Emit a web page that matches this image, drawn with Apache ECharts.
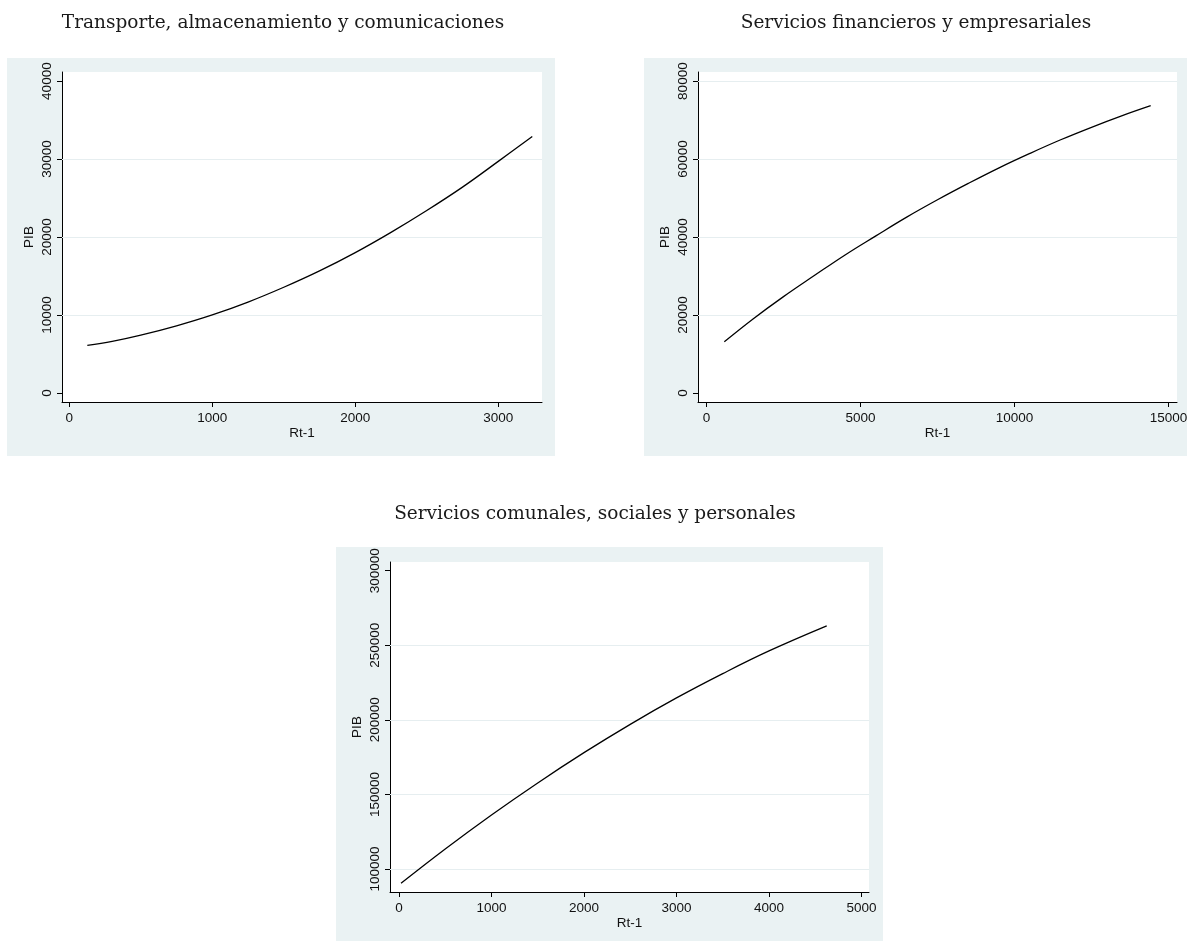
<!DOCTYPE html>
<html>
<head>
<meta charset="utf-8">
<script src="https://cdn.jsdelivr.net/npm/echarts@6/dist/echarts.min.js"></script>
<style>
  html, body { margin: 0; padding: 0; background: #ffffff; }
  #chart { width: 1190px; height: 943px; }
</style>
</head>
<body>
<div id="chart"></div>
<script>
// Panel titles
const titles = [
  'Transporte, almacenamiento y comunicaciones',
  'Servicios financieros y empresariales',
  'Servicios comunales, sociales y personales'
];
const xName = 'Rt-1';
const yName = 'PIB';

// Transporte, almacenamiento y comunicaciones
const rt1  = [126, 300, 500, 750, 1000, 1250, 1500, 1750, 2000, 2250, 2500, 2750, 3000, 3238];
const pib1 = [6100, 6600, 7400, 8600, 10000, 11650, 13550, 15650, 18000, 20600, 23400, 26400, 29700, 32900];
const xTicks1 = [0, 1000, 2000, 3000];
const yTicks1 = [0, 10000, 20000, 30000, 40000];
const yGrid1  = [10000, 20000, 30000];

// Servicios financieros y empresariales
const rt2  = [578, 1500, 2500, 3500, 4500, 5500, 6500, 7500, 8500, 9500, 10500, 11500, 12500, 13500, 14422];
const pib2 = [13100, 18900, 24700, 30100, 35400, 40300, 45100, 49550, 53750, 57750, 61450, 64950, 68150, 71150, 73700];
const xTicks2 = [0, 5000, 10000, 15000];
const yTicks2 = [0, 20000, 40000, 60000, 80000];
const yGrid2  = [20000, 40000, 60000, 80000];

// Servicios comunales, sociales y personales
const rt3  = [22, 500, 1000, 1500, 2000, 2500, 3000, 3500, 4000, 4624];
const pib3 = [90400, 113400, 136200, 157700, 178000, 197000, 214700, 231000, 246200, 263000];
const xTicks3 = [0, 1000, 2000, 3000, 4000, 5000];
const yTicks3 = [100000, 150000, 200000, 250000, 300000];
const yGrid3  = [100000, 150000, 200000, 250000];

const PANEL_BG = '#eaf2f3';
const GRID_LINE = '#e6eef0';
const INK = '#000000';
const SANS = '"Liberation Sans", Arial, Helvetica, sans-serif';
const SERIF = '"DejaVu Serif", "Liberation Serif", serif';

const panels = [
  { rt: rt1, pib: pib1, xt: xTicks1, yt: yTicks1, yg: yGrid1,
    grid: { left: 62, top: 72, width: 480, height: 330 },
    xr: [-51, 3306], yr: [-1170, 41170],
    bg: [7, 58, 548, 398], title: [283, 23] },
  { rt: rt2, pib: pib2, xt: xTicks2, yt: yTicks2, yg: yGrid2,
    grid: { left: 698, top: 72, width: 479, height: 330 },
    xr: [-276, 15276], yr: [-2340, 82340],
    bg: [644, 58, 543, 398], title: [916, 23] },
  { rt: rt3, pib: pib3, xt: xTicks3, yt: yTicks3, yg: yGrid3,
    grid: { left: 390, top: 562, width: 479, height: 330 },
    xr: [-97, 5081], yr: [84580, 305830],
    bg: [336, 547, 547, 394], title: [595, 514] }
];

const axisLineStyle = { color: INK, width: 1 };
const labelStyle = { color: '#111111', fontFamily: SANS, fontSize: 13.5 };
const plain = v => String(v);

const grids = [], xAxes = [], yAxes = [], series = [], graphics = [];

panels.forEach((p, i) => {
  graphics.push({
    type: 'rect', z: -10, silent: true,
    shape: { x: p.bg[0], y: p.bg[1], width: p.bg[2], height: p.bg[3] },
    style: { fill: PANEL_BG }
  });
  graphics.push({
    type: 'text', z: 10, silent: true,
    x: p.title[0], y: p.title[1],
    style: {
      text: titles[i], fill: '#1a1a1a',
      font: '18.5px ' + SERIF,
      textAlign: 'center', textVerticalAlign: 'middle'
    }
  });

  grids.push(Object.assign({
    show: true, backgroundColor: '#ffffff', borderWidth: 0,
    containLabel: false, outerBoundsMode: 'none'
  }, p.grid));

  xAxes.push({
    gridIndex: i, type: 'value', min: p.xr[0], max: p.xr[1],
    name: xName, nameLocation: 'middle', nameGap: 23,
    nameTextStyle: labelStyle,
    axisLine: { show: true, onZero: false, lineStyle: axisLineStyle },
    axisTick: { show: true, customValues: p.xt, length: 5, inside: false, lineStyle: axisLineStyle },
    axisLabel: Object.assign({ customValues: p.xt, margin: 9, formatter: plain }, labelStyle),
    splitLine: { show: false }
  });

  yAxes.push({
    gridIndex: i, type: 'value', min: p.yr[0], max: p.yr[1],
    name: yName, nameLocation: 'middle', nameGap: 26,
    nameTextStyle: labelStyle,
    axisLine: { show: true, onZero: false, lineStyle: axisLineStyle },
    axisTick: { show: true, customValues: p.yt, length: 5, inside: false, lineStyle: axisLineStyle },
    axisLabel: Object.assign({ customValues: p.yt, margin: 8, rotate: 90, formatter: plain }, labelStyle),
    splitLine: { show: false }
  });

  // horizontal grid lines at the labelled values, kept beneath the curve
  series.push({
    type: 'line', xAxisIndex: i, yAxisIndex: i, data: [], z: 1, silent: true,
    markLine: {
      z: 1, silent: true, symbol: ['none', 'none'], animation: false,
      label: { show: false },
      lineStyle: { color: GRID_LINE, width: 1, type: 'solid' },
      emphasis: { disabled: true },
      data: p.yg.map(v => ({ yAxis: v }))
    }
  });

  // fitted curve
  series.push({
    type: 'line', xAxisIndex: i, yAxisIndex: i, z: 4, silent: true,
    data: p.rt.map((x, k) => [x, p.pib[k]]),
    symbol: 'none', showSymbol: false, smooth: 0.4,
    lineStyle: { color: INK, width: 1.3 }
  });
});

const chart = echarts.init(document.getElementById('chart'), null, { renderer: 'canvas' });
chart.setOption({
  animation: false,
  backgroundColor: '#ffffff',
  graphic: { elements: graphics },
  grid: grids,
  xAxis: xAxes,
  yAxis: yAxes,
  series: series
});
</script>
</body>
</html>
